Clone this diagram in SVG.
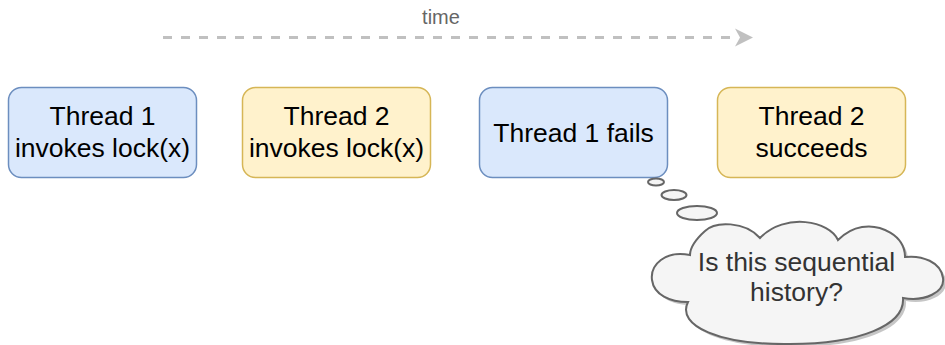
<svg xmlns="http://www.w3.org/2000/svg" xmlns:xlink="http://www.w3.org/1999/xlink" width="945" height="345" viewBox="0 0 945 345">
  <style>
    .box { stroke-width: 1.5; }
    .t1 { fill: #dae8fc; stroke: #6c8ebf; }
    .t2 { fill: #fff2cc; stroke: #d6b656; }
    .label { font-family: "Liberation Sans", Arial, sans-serif; font-size: 26.5px; text-anchor: middle; fill: #000000; }
    .thought { fill: #f5f5f5; stroke: #666666; stroke-width: 2; }
    .time { font-family: "Liberation Sans", Arial, sans-serif; font-size: 20px; text-anchor: middle; fill: #666666; }
  </style>
  <defs>
    <path id="cloudShape" d="M690,255 C665,250 650,265 652,280 C654,295 670,302 688,302 C676,326 720,345 790,344 C860,344 905,325 903,298 C925,302 945,292 943,278 C941,262 922,255 905,257 C905,235 880,224 862,227 C850,229 842,236 838,240 C830,221 785,212 760,238 C745,221 715,221 705,231 C695,240 690,248 690,255 Z"/>
  </defs>

  <!-- time axis -->
  <g id="connectors">
    <text class="time" x="441" y="24">time</text>
    <line x1="163" y1="37.5" x2="737" y2="37.5" stroke="#c0c0c0" stroke-width="3" stroke-dasharray="9 9"/>
    <path d="M753,37.5 L735,28.5 L740,37.5 L735,46.5 Z" fill="#c0c0c0"/>
  </g>

  <g id="thread1-invokes">
    <rect class="box t1" x="8.5" y="87.5" width="188" height="90" rx="13"/>
    <text class="label" x="102.5" y="124.5">Thread 1</text>
    <text class="label" x="102.5" y="156.5">invokes lock(x)</text>
  </g>

  <g id="thread2-invokes">
    <rect class="box t2" x="242.5" y="87.5" width="188" height="90" rx="13"/>
    <text class="label" x="336.5" y="124.5">Thread 2</text>
    <text class="label" x="336.5" y="156.5">invokes lock(x)</text>
  </g>

  <g id="thread1-fails">
    <rect class="box t1" x="479.5" y="87.5" width="188" height="90" rx="13"/>
    <text class="label" x="573.5" y="141.5">Thread 1 fails</text>
  </g>

  <g id="thread2-succeeds">
    <rect class="box t2" x="717.5" y="87.5" width="188" height="90" rx="13"/>
    <text class="label" x="811.5" y="124.5">Thread 2</text>
    <text class="label" x="811.5" y="156.5">succeeds</text>
  </g>

  <!-- thought bubble -->
  <g id="question">
    <ellipse class="thought" cx="656" cy="182" rx="8" ry="3.5"/>
    <ellipse class="thought" cx="674" cy="195" rx="12.5" ry="5"/>
    <ellipse class="thought" cx="697" cy="213" rx="20" ry="7"/>
    <use xlink:href="#cloudShape" transform="translate(3,3)" fill="#808080" opacity="0.45"/>
    <use xlink:href="#cloudShape" class="thought"/>
    <text class="label" x="796.5" y="271" style="fill:#333333">Is this sequential</text>
    <text class="label" x="796.5" y="301" style="fill:#333333">history?</text>
  </g>
</svg>
